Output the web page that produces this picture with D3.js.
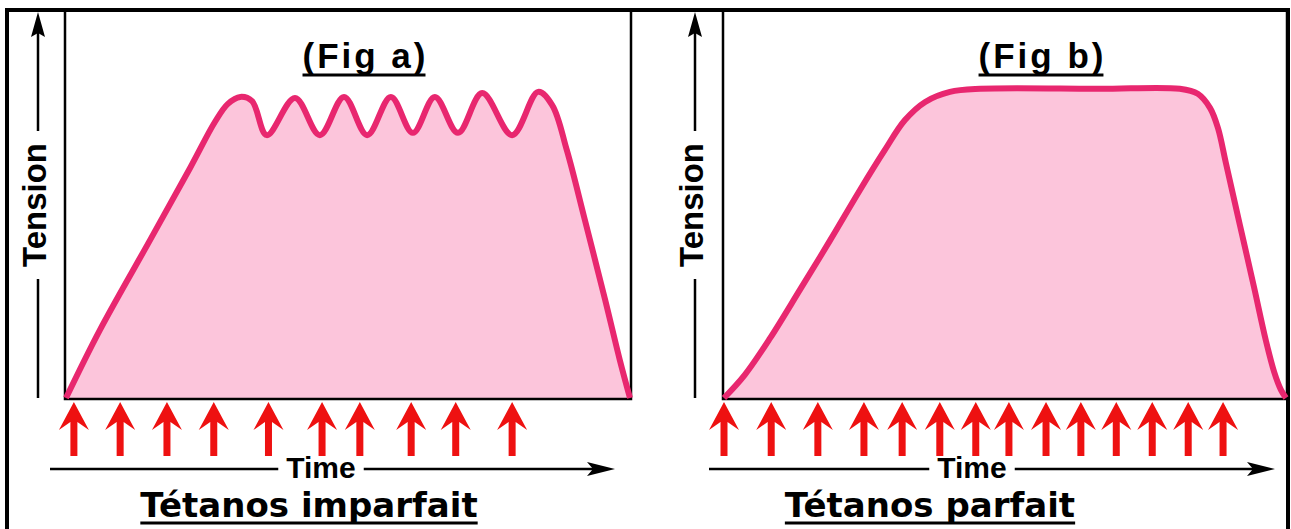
<!DOCTYPE html>
<html>
<head>
<meta charset="utf-8">
<script src="https://cdn.jsdelivr.net/npm/d3@7"></script>
<style>
  body { margin: 0; background: #fff; }
</style>
</head>
<body>
<svg width="1291" height="529"></svg>
<script>
"use strict";

// Fig a: imperfect tetanus (time 0..100, tension 0..100)
const timeA    = [0, 6, 14.9, 22, 26.4, 28.7, 30.9, 33, 35.6, 40.6, 45, 49.3, 53.4, 57.6, 61.5, 65.4, 69.5, 73.8, 79.1, 83.7, 86.2, 88.8, 92, 95.6, 98.2, 100];
const tensionA = [0, 17.6, 40.9, 59.6, 71.5, 76.2, 78, 76.9, 68.1, 77.7, 68.1, 78, 68.1, 78, 68.7, 78, 68.7, 79, 68.1, 79.3, 75.9, 64.2, 46.1, 25.4, 9.8, 0];

// Fig b: complete tetanus
const timeB    = [0, 3.7, 8.2, 13.5, 18.9, 24.2, 28.6, 32.2, 35.8, 40.2, 45.6, 66.9, 81.1, 84.3, 86.5, 87.9, 89.3, 91.8, 94.3, 96.4, 97.9, 99.1, 100];
const tensionB = [0, 6.0, 15.5, 28.0, 40.9, 53.9, 64.2, 72.0, 76.7, 79.3, 80.1, 80.1, 80.1, 78.8, 75.1, 69.9, 60.9, 44.8, 28.8, 15.0, 6.7, 2.1, 0];

// stimulation times (red arrows)
const stimA = [1.4, 9.6, 17.9, 26.2, 35.9, 45.4, 52.1, 61.2, 69.1, 79.1];
const stimB = [0, 8.4, 16.7, 24.9, 31.7, 38.4, 44.8, 50.7, 57.3, 63.5, 69.8, 76.2, 82.6, 88.8];

const titles = ["(Fig a)", "(Fig b)"];
const labels = ["Tétanos imparfait", "Tétanos parfait"];
const yLabel = "Tension";
const xLabel = "Time";

const svg = d3.select("svg");

// outer frame
svg.append("rect")
    .attr("x", 7).attr("y", 10)
    .attr("width", 1281).attr("height", 540)
    .attr("fill", "none").attr("stroke", "#000").attr("stroke-width", 4);

const panels = [
    {time: timeA, tension: tensionA, stim: stimA, title: titles[0], label: labels[0],
     left: 66, right: 630, axisX: 38, titleX: 364, timeX: 321, labelX: 309, lineL: 50, lineR: 615},
    {time: timeB, tension: tensionB, stim: stimB, title: titles[1], label: labels[1],
     left: 724, right: 1286, axisX: 695, titleX: 1041, timeX: 972, labelX: 930, lineL: 709, lineR: 1275}
];

const plotTop = 12, plotBottom = 398;

function underline(g, textSel, y, trim) {
    const bb = textSel.node().getBBox();
    g.append("line")
        .attr("x1", bb.x).attr("x2", bb.x + bb.width - (trim || 0))
        .attr("y1", y).attr("y2", y)
        .attr("stroke", "#000").attr("stroke-width", 3);
}

panels.forEach(p => {
    const g = svg.append("g");
    const x = d3.scaleLinear().domain([0, 100]).range([p.left, p.right]);
    const y = d3.scaleLinear().domain([0, 100]).range([plotBottom, plotTop]);
    const pts = p.time.map((t, i) => [t, p.tension[i]]);

    const area = d3.area()
        .x(d => x(d[0])).y0(y(0)).y1(d => y(d[1]))
        .curve(d3.curveCatmullRom.alpha(0.5));
    const line = d3.line()
        .x(d => x(d[0])).y(d => y(d[1]))
        .curve(d3.curveCatmullRom.alpha(0.5));

    g.append("path").datum(pts).attr("d", area).attr("fill", "#fcc5db");

    // plot box
    g.append("rect")
        .attr("x", x(0) - 1).attr("y", plotTop - 2)
        .attr("width", x(100) - x(0) + 2).attr("height", plotBottom - plotTop + 3)
        .attr("fill", "none").attr("stroke", "#000").attr("stroke-width", 2.5);

    g.append("path").datum(pts).attr("d", line)
        .attr("fill", "none").attr("stroke", "#e8276f")
        .attr("stroke-width", 6).attr("stroke-linejoin", "round");

    // title
    const t = g.append("text")
        .attr("x", p.titleX + 1.5).attr("y", 68)
        .attr("text-anchor", "middle")
        .attr("font-family", "Liberation Sans").attr("font-weight", "bold")
        .attr("font-size", 35).attr("letter-spacing", 3)
        .text(p.title);
    underline(g, t, 75, 3);

    // vertical tension arrow
    const midY = 205, gap = 74;
    g.append("line")
        .attr("x1", p.axisX).attr("x2", p.axisX)
        .attr("y1", plotBottom).attr("y2", midY + gap)
        .attr("stroke", "#000").attr("stroke-width", 2.5);
    g.append("line")
        .attr("x1", p.axisX).attr("x2", p.axisX)
        .attr("y1", midY - gap).attr("y2", plotTop + 18)
        .attr("stroke", "#000").attr("stroke-width", 2.5);
    g.append("path")
        .attr("d", `M${p.axisX},${plotTop}L${p.axisX + 7},${plotTop + 25}L${p.axisX},${plotTop + 21}L${p.axisX - 7},${plotTop + 25}Z`)
        .attr("fill", "#000");
    g.append("text")
        .attr("transform", `translate(${p.axisX + 8},${midY}) rotate(-90)`)
        .attr("text-anchor", "middle")
        .attr("font-family", "Liberation Sans").attr("font-weight", "bold")
        .attr("font-size", 33)
        .text(yLabel);

    // stimulation arrows
    g.selectAll("path.stim")
        .data(p.stim)
        .join("path")
        .attr("class", "stim")
        .attr("transform", d => `translate(${x(d)},${plotBottom + 4})`)
        .attr("d", "M0,0L15,28L3.5,20L3.5,54L-3.5,54L-3.5,20L-15,28Z")
        .attr("fill", "#ee1111");

    // time axis
    const timeY = 469;
    const tt = g.append("text")
        .attr("x", p.timeX).attr("y", 478)
        .attr("text-anchor", "middle")
        .attr("font-family", "Liberation Sans").attr("font-weight", "bold")
        .attr("font-size", 30)
        .text(xLabel);
    const tb = tt.node().getBBox();
    g.append("line")
        .attr("x1", p.lineL).attr("x2", tb.x - 8)
        .attr("y1", timeY).attr("y2", timeY)
        .attr("stroke", "#000").attr("stroke-width", 2.5);
    g.append("line")
        .attr("x1", tb.x + tb.width + 8).attr("x2", p.lineR - 20)
        .attr("y1", timeY).attr("y2", timeY)
        .attr("stroke", "#000").attr("stroke-width", 2.5);
    g.append("path")
        .attr("d", `M${p.lineR},${timeY}L${p.lineR - 28},${timeY - 7}L${p.lineR - 22},${timeY}L${p.lineR - 28},${timeY + 7}Z`)
        .attr("fill", "#000");

    // bottom label
    const lb = g.append("text")
        .attr("x", p.labelX).attr("y", 517)
        .attr("text-anchor", "middle")
        .attr("font-family", "DejaVu Sans").attr("font-weight", "bold")
        .attr("font-size", 34)
        .text(p.label);
    underline(g, lb, 523);
});
</script>
</body>
</html>
